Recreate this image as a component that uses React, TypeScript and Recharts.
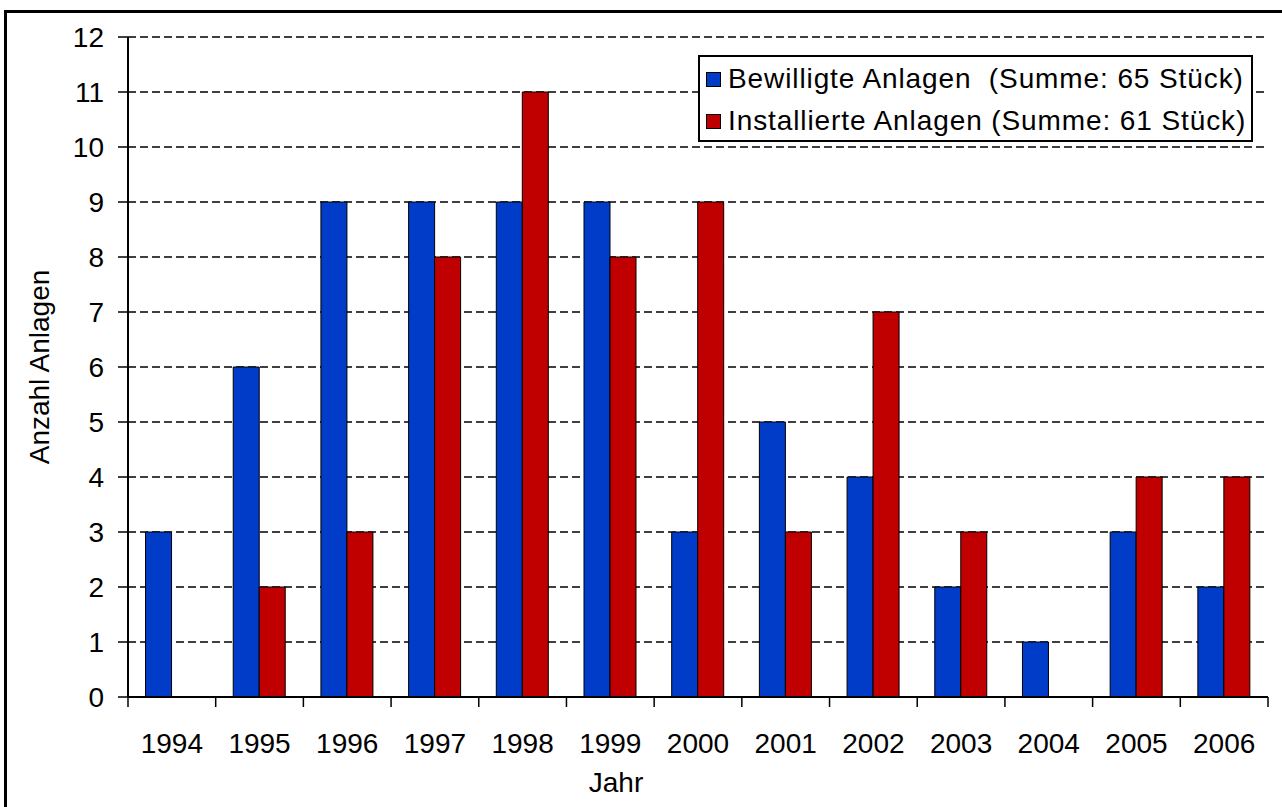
import React from "react"
import {
  BarChart,
  Bar,
  XAxis,
  YAxis,
  CartesianGrid
} from "recharts"

const years = ["1994", "1995", "1996", "1997", "1998", "1999", "2000", "2001", "2002", "2003", "2004", "2005", "2006"]
const bewilligt = [3, 6, 9, 9, 9, 9, 3, 5, 4, 2, 1, 3, 2]
const installiert = [0, 2, 3, 8, 11, 8, 9, 3, 7, 3, 0, 4, 4]
const yTicks = [0, 1, 2, 3, 4, 5, 6, 7, 8, 9, 10, 11, 12]

const series = [
  { key: "bewilligt", name: "Bewilligte Anlagen  (Summe: 65 Stück)", color: "#003CC8" },
  { key: "installiert", name: "Installierte Anlagen (Summe: 61 Stück)", color: "#C00000" }
]

const data = years.map((year, i) => ({
  year,
  bewilligt: bewilligt[i],
  installiert: installiert[i]
}))

const FONT = "'Liberation Sans', Arial, sans-serif"

// ticks sit between the categories, like in Excel
const YearTick = (props: any) => {
  const { x, y, payload, index } = props
  const half = payload?.offset ?? 43.85
  const isLast = index === years.length - 1
  return (
    <g>
      <line x1={x - half} x2={x - half} y1={y} y2={y + 10} stroke="#000" strokeWidth={1.5} />
      {isLast && <line x1={x + half} x2={x + half} y1={y} y2={y + 10} stroke="#000" strokeWidth={1.5} />}
      <text x={x} y={y + 56} textAnchor="middle" fontSize={28} fill="#000" fontFamily={FONT}>
        {payload.value}
      </text>
    </g>
  )
}

export default function App() {
  return (
    <div
      style={{
        position: "absolute",
        left: 0,
        top: 0,
        width: 1282,
        height: 807,
        overflow: "hidden",
        background: "#fff",
        fontFamily: FONT
      }}
    >
      <div
        style={{
          position: "absolute",
          left: 4,
          top: 10,
          width: 1290,
          height: 810,
          border: "3px solid #000"
        }}
      />
      <div style={{ position: "absolute", left: 0, top: 0 }}>
        <BarChart
          width={1282}
          height={807}
          data={data}
          margin={{ top: 37, right: 14, bottom: 0, left: 0 }}
          barCategoryGap="20%"
          barGap={0}
        >
          <CartesianGrid
            horizontal={true}
            vertical={false}
            stroke="#000"
            strokeWidth={1.5}
            strokeDasharray="8 4"
          />
          <XAxis
            dataKey="year"
            height={110}
            tickLine={false}
            tickSize={0}
            tickMargin={0}
            interval={0}
            axisLine={{ stroke: "#000", strokeWidth: 2 }}
            tick={<YearTick />}
            label={({ viewBox }: any) => (
              <text
                x={viewBox.x + 488}
                y={792}
                textAnchor="middle"
                fontSize={28}
                fill="#000"
                fontFamily={FONT}
              >
                Jahr
              </text>
            )}
          />
          <YAxis
            width={128}
            domain={[0, 12]}
            ticks={yTicks}
            interval={0}
            tickSize={10}
            tickMargin={14}
            axisLine={{ stroke: "#000", strokeWidth: 2 }}
            tickLine={{ stroke: "#000", strokeWidth: 1.5 }}
            tick={{ fontSize: 28, fill: "#000", fontFamily: FONT }}
            label={({ viewBox }: any) => {
              const cx = 39
              const cy = viewBox.y + viewBox.height / 2
              return (
                <text
                  x={cx}
                  y={cy}
                  transform={`rotate(-90 ${cx} ${cy})`}
                  textAnchor="middle"
                  dominantBaseline="central"
                  fontSize={28}
                  fill="#000"
                  fontFamily={FONT}
                >
                  Anzahl Anlagen
                </text>
              )
            }}
          />
          <YAxis
            yAxisId="right"
            orientation="right"
            width={0}
            domain={[0, 12]}
            tick={false}
            tickLine={false}
            axisLine={{ stroke: "#000", strokeWidth: 1 }}
          />
          {series.map(s => (
            <Bar
              key={s.key}
              dataKey={s.key}
              name={s.name}
              fill={s.color}
              stroke="#000"
              strokeWidth={1}
              isAnimationActive={false}
            />
          ))}
        </BarChart>
      </div>
      <div
        style={{
          position: "absolute",
          left: 698,
          top: 55,
          width: 551,
          height: 82,
          border: "2px solid #000",
          background: "#fff",
          paddingTop: 1
        }}
      >
        {series.map(s => (
          <div
            key={s.key}
            style={{
              display: "flex",
              alignItems: "center",
              height: 42,
              paddingLeft: 6
            }}
          >
            <span
              style={{
                display: "inline-block",
                width: 13,
                height: 13,
                background: s.color,
                border: "1px solid #000",
                marginRight: 7
              }}
            />
            <span
              style={{
                fontSize: 28,
                color: "#000",
                whiteSpace: "pre",
                lineHeight: "42px",
                letterSpacing: 0.9
              }}
            >
              {s.name}
            </span>
          </div>
        ))}
      </div>
    </div>
  )
}
